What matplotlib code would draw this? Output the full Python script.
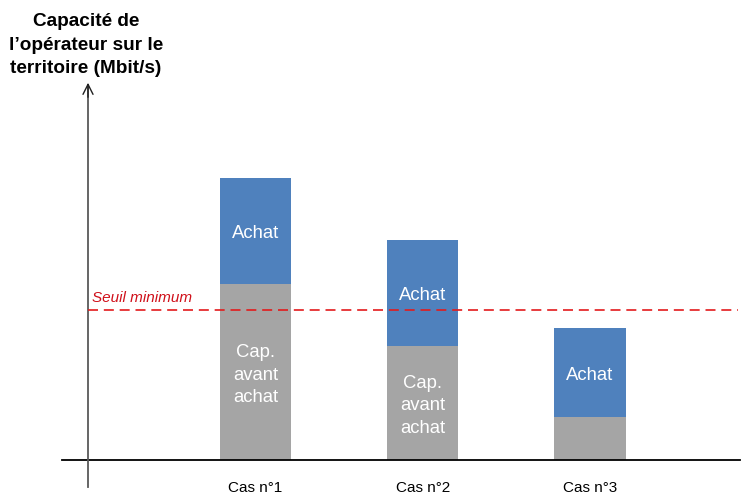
import matplotlib
matplotlib.use("Agg")
import matplotlib.pyplot as plt

categories = ["Cas n°1", "Cas n°2", "Cas n°3"]
cap_avant = [17.6, 11.4, 4.3]
achat = [10.6, 10.6, 8.9]
seuil = 15.0
show_cap_label = [True, True, False]

plt.rcParams['font.family'] = ['Liberation Sans', 'DejaVu Sans']

fig = plt.figure(figsize=(7.46, 4.95), dpi=100)
ax = fig.add_axes([0, 0, 1, 1])
ax.set_xlim(-1.5277, 2.9327)
ax.set_ylim(-3.5, 46.0)
ax.axis('off')

x = list(range(len(categories)))
w = 0.425
blue = '#4F81BD'
grey = '#A5A5A5'
ax.bar(x, cap_avant, width=w, color=grey, zorder=2)
ax.bar(x, achat, width=w, bottom=cap_avant, color=blue, zorder=2)

for i in x:
    ax.text(i, cap_avant[i] + achat[i] / 2 - 0.3, "Achat", color='white', fontsize=13.3,
            ha='center', va='center', zorder=3)
    if show_cap_label[i]:
        ax.text(i, cap_avant[i] / 2 - 0.3, "Cap.\navant\nachat", color='white', fontsize=13.3,
                ha='center', va='center', linespacing=1.42, zorder=3)
    ax.text(i, -2.85, categories[i], fontsize=11, ha='center', va='center')

# x axis
ax.plot([-1.157, 2.897], [0, 0], color='black', lw=1.3, zorder=4)
# y axis with arrow
ax.plot([-1.0015, -1.0015], [-2.7, 37.5], color='#595959', lw=1.3, zorder=4)
ax.annotate("", xy=(-1.0015, 38.0), xytext=(-1.0015, 36.0),
            arrowprops=dict(arrowstyle='->', color='#202020', lw=1.0, mutation_scale=18),
            zorder=5)

# threshold
ax.plot([-1.0015, 2.885], [seuil, seuil], color='#E31A1C', lw=1.2,
        dashes=(6, 3.5), zorder=5)
ax.text(-0.980, seuil + 0.45, "Seuil minimum", color='#D0101A', fontsize=11,
        style='italic', ha='left', va='bottom')

fig.text(86 / 746, 1 - 45 / 495, "Capacité de\nl’opérateur sur le\nterritoire (Mbit/s)",
         fontsize=13.7, fontweight='bold', ha='center', va='center', linespacing=1.49)

fig.savefig("out.png", dpi=100)
